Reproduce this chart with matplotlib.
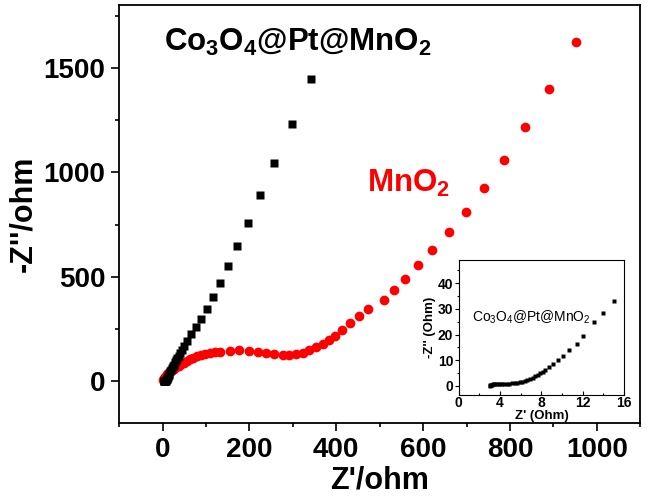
import matplotlib
matplotlib.use('Agg')
import matplotlib.pyplot as plt
from matplotlib.ticker import MultipleLocator

plt.rcParams['font.family'] = ['Liberation Sans', 'DejaVu Sans']
plt.rcParams['font.weight'] = 'bold'
plt.rcParams['mathtext.fontset'] = 'custom'
plt.rcParams['mathtext.bf'] = 'Liberation Sans:bold'
plt.rcParams['mathtext.rm'] = 'Liberation Sans'

# Co3O4@Pt@MnO2 (black squares)
x_cpm = [3, 3.5, 4, 5, 6, 7, 8, 9, 10, 11, 12, 13, 14, 15, 17, 19, 21, 23, 25, 28, 31, 34, 37,
         41, 45, 50, 57, 66, 77, 89, 103, 116, 131, 150, 171, 196, 225, 257, 297, 342]
y_cpm = [0, 0.8, 0.9, 1, 1.5, 2.5, 4.5, 8, 12, 16, 20, 25, 29, 33, 46, 54, 62, 70, 78, 89, 100, 111, 122,
         136, 150, 168, 193, 225, 260, 297, 345, 404, 472, 550, 645, 757, 891, 1046, 1231, 1448]

# MnO2 (red circles)
x_mn = [0.5, 2, 3.5, 5, 7, 10, 13, 17, 21, 26, 31, 37, 43, 49, 56, 63, 71, 80, 89, 98, 108, 120, 131,
        154, 177, 198, 219, 238, 257, 277, 292, 307, 323, 338, 353, 369, 384, 398, 413, 432, 452, 473,
        510, 533, 559, 589, 621, 660, 699, 740, 786, 834, 890, 952]
y_mn = [3, 10, 16, 20, 26, 32, 38, 45, 52, 60, 66, 73, 80, 88, 97, 105, 112, 118, 124, 129, 133, 138, 141,
        144, 148, 144, 141, 136, 131, 125, 125, 128, 135, 148, 162, 180, 199, 217, 244, 276, 310, 347,
        388, 437, 490, 554, 626, 713, 809, 923, 1059, 1217, 1401, 1623]

# inset: high-frequency part of Co3O4@Pt@MnO2
x_in = [3.0, 3.05, 3.1, 3.2, 3.3, 3.45, 3.6, 3.8, 4.0, 4.2, 4.4, 4.65, 4.9, 5.15, 5.4, 5.65, 5.9,
        6.15, 6.4, 6.65, 6.9, 7.15, 7.4, 7.65, 7.9, 8.15, 8.35, 8.74, 9.13, 9.58, 10.1, 10.65, 11.46,
        12.07, 13.07, 13.95, 15.05]
y_in = [0, 0.2, 0.4, 0.55, 0.65, 0.75, 0.8, 0.85, 0.85, 0.85, 0.85, 0.85, 0.9, 0.95, 1.05, 1.2, 1.4,
        1.65, 1.95, 2.3, 2.7, 3.2, 3.7, 4.3, 4.9, 5.5, 6.0, 7.2, 8.5, 10.0, 11.7, 13.9, 16.5,
        19.5, 24.8, 28.4, 33.0]

fig = plt.figure(figsize=(6.48, 4.98), dpi=100)
ax = fig.add_axes([0.184, 0.151, 0.804, 0.838])

ax.plot(x_mn, y_mn, 'o', color='#ff0000', ms=7, mec='none')
ax.plot(x_cpm, y_cpm, 's', color='black', ms=6, mec='none')

ax.set_xlim(-100, 1100)
ax.set_ylim(-200, 1800)
ax.xaxis.set_major_locator(MultipleLocator(200))
ax.xaxis.set_minor_locator(MultipleLocator(100))
ax.yaxis.set_major_locator(MultipleLocator(500))
ax.yaxis.set_minor_locator(MultipleLocator(250))
ax.tick_params(which='major', direction='out', length=6, width=1.2, labelsize=20, pad=4)
ax.tick_params(which='minor', direction='out', length=3, width=1.2)
for s in ax.spines.values():
    s.set_linewidth(1.3)
for lb in ax.get_xticklabels() + ax.get_yticklabels():
    lb.set_fontweight('bold')

ax.set_xlabel("Z'/ohm", fontsize=22, fontweight='bold', labelpad=2)
ax.set_ylabel("-Z''/ohm", fontsize=22, fontweight='bold', labelpad=4)

ax.text(311, 1622, r'$\mathbf{Co_3O_4@Pt@MnO_2}$', fontsize=22.5, ha='center', va='center', color='black')
ax.text(470, 905, r'$\mathbf{MnO_2}$', fontsize=22.5, ha='left', va='baseline', color='#ff0000')

# inset
axi = fig.add_axes([0.708, 0.207, 0.255, 0.271])
axi.plot(x_in, y_in, 's', color='black', ms=2.3, mec='none')
axi.set_xlim(0, 16)
axi.set_ylim(-3.5, 49)
axi.xaxis.set_major_locator(MultipleLocator(4))
axi.xaxis.set_minor_locator(MultipleLocator(2))
axi.yaxis.set_major_locator(MultipleLocator(10))
axi.yaxis.set_minor_locator(MultipleLocator(5))
axi.tick_params(axis='x', which='both', direction='in', labelsize=10, pad=1)
axi.tick_params(axis='y', which='both', direction='out', labelsize=10, pad=1)
axi.tick_params(which='major', length=3, width=0.8)
axi.tick_params(which='minor', length=1.5, width=0.8)
for lb in axi.get_xticklabels() + axi.get_yticklabels():
    lb.set_fontweight('bold')
axi.set_xlabel("Z' (Ohm)", fontsize=9.5, fontweight='bold', labelpad=0)
axi.set_ylabel("-Z'' (Ohm)", fontsize=9.5, fontweight='bold', labelpad=1)
axi.text(1.3, 26.5, r'$\mathregular{Co_3O_4@Pt@MnO_2}$', fontsize=10, fontweight='normal',
         ha='left', va='center')

fig.savefig('out.png', dpi=100)
